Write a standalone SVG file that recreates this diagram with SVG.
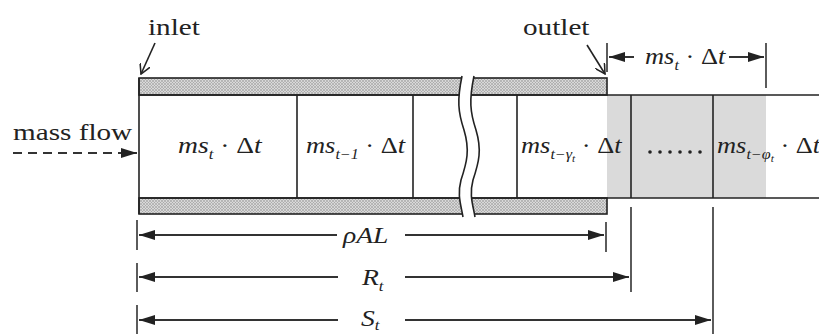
<svg xmlns="http://www.w3.org/2000/svg" width="819" height="334" viewBox="0 0 819 334">
<defs>
<pattern id="hatch" width="3" height="3" patternUnits="userSpaceOnUse">
<rect width="3" height="3" fill="#d8d8d8"/>
<path d="M0,3 L3,0 M0,0 L3,3" stroke="#a0a0a0" stroke-width="0.6"/>
</pattern>
<marker id="fa" viewBox="0 0 16 10" refX="16" refY="5" markerWidth="16" markerHeight="10" markerUnits="userSpaceOnUse" orient="auto">
<path d="M0,0 L16,5 L0,10 Z" fill="#222"/>
</marker>
<marker id="oa" viewBox="0 0 10 10" refX="9" refY="5" markerWidth="11" markerHeight="11" markerUnits="userSpaceOnUse" orient="auto">
<path d="M0,0 L9,5 L0,10" fill="none" stroke="#222" stroke-width="1.4"/>
</marker>
</defs>
<style>
text{font-family:"Liberation Serif","Times New Roman",Times,serif;fill:#222}
.lbl{font-size:23px}
.m{font-size:23px;font-style:italic}
.up{font-style:normal}
.sub{font-size:14px}
.ssub{font-size:10px}
.ln{stroke:#222;stroke-width:1.6;fill:none}
.band{stroke:#222;stroke-width:1.6;fill:url(#hatch)}
.dim{stroke:#333;stroke-width:2;fill:none}
.tick{stroke:#333;stroke-width:1.6}
.dot{fill:#222}
</style>
<rect width="819" height="334" fill="#fff"/>

<g id="pipe">
<rect x="607" y="95" width="159" height="103" fill="#dadada"/>
<rect x="139" y="78" width="468" height="17" class="band"/>
<rect x="139" y="198" width="468" height="16" class="band"/>
<line x1="139" y1="95" x2="819" y2="95" class="ln"/>
<line x1="139" y1="198" x2="819" y2="198" class="ln"/>
<line x1="139" y1="78" x2="139" y2="214" class="ln"/>
<g class="ln">
<line x1="297" y1="95" x2="297" y2="198"/>
<line x1="413" y1="95" x2="413" y2="198"/>
<line x1="517" y1="95" x2="517" y2="198"/>
<line x1="631" y1="95" x2="631" y2="198"/>
<line x1="713" y1="95" x2="713" y2="198"/>
</g>
</g>

<g id="break">
<path d="M462,76 C457,100 458,112 464,130 C470,150 467,162 461,180 C457,195 461,205 463,217 L475,217 C473,205 469,195 473,180 C479,162 482,150 476,130 C470,112 469,100 474,76 Z" fill="#fff"/>
<path d="M462,76 C457,100 458,112 464,130 C470,150 467,162 461,180 C457,195 461,205 463,217" class="ln"/>
<path d="M474,76 C469,100 470,112 476,130 C482,150 479,162 473,180 C469,195 473,205 475,217" class="ln"/>
</g>

<g id="cells">
<text class="m" transform="translate(178,153) scale(1.2,1)">ms<tspan class="sub" dy="6">t</tspan><tspan class="up" dy="-6"> · Δ</tspan>t</text>
<text class="m" transform="translate(306,153) scale(1.15,1)">ms<tspan class="sub" dy="6">t−1</tspan><tspan class="up" dy="-6"> · Δ</tspan>t</text>
<text class="m" transform="translate(521,153) scale(1.15,1)">ms<tspan class="sub" dy="6">t−γ</tspan><tspan class="ssub" dy="3">t</tspan><tspan class="up" dy="-9"> · Δ</tspan>t</text>
<g id="dots">
<circle cx="650" cy="152" r="1.8" class="dot"/>
<circle cx="660" cy="152" r="1.8" class="dot"/>
<circle cx="670" cy="152" r="1.8" class="dot"/>
<circle cx="680" cy="152" r="1.8" class="dot"/>
<circle cx="690" cy="152" r="1.8" class="dot"/>
<circle cx="700" cy="152" r="1.8" class="dot"/>
</g>
<text class="m" transform="translate(717,153) scale(1.15,1)">ms<tspan class="sub" dy="6">t−φ</tspan><tspan class="ssub" dy="3">t</tspan><tspan class="up" dy="-9"> · Δ</tspan>t</text>
</g>

<g id="labels">
<text class="lbl" transform="translate(148,35) scale(1.27,1)">inlet</text>
<text class="lbl" transform="translate(523,35) scale(1.27,1)">outlet</text>
<text class="lbl" transform="translate(13,140) scale(1.27,1)">mass flow</text>
</g>

<g id="connectors">
<line x1="155" y1="43" x2="141" y2="74" class="ln" marker-end="url(#oa)"/>
<line x1="587" y1="45" x2="605" y2="74" class="ln" marker-end="url(#oa)"/>
<line x1="13" y1="153" x2="137" y2="153" class="dim" stroke-dasharray="9,6" marker-end="url(#fa)"/>

<g id="dim-top">
<line x1="607" y1="43" x2="607" y2="72" class="tick"/>
<line x1="766" y1="43" x2="766" y2="88" class="tick"/>
<line x1="634" y1="57" x2="609" y2="57" class="dim" marker-end="url(#fa)"/>
<line x1="729" y1="57" x2="764" y2="57" class="dim" marker-end="url(#fa)"/>
<text class="m" transform="translate(645,64) scale(1.15,1)">ms<tspan class="sub" dy="6">t</tspan><tspan class="up" dy="-6"> · Δ</tspan>t</text>
</g>

<g id="dim-rhoAL">
<line x1="137" y1="220" x2="137" y2="250" class="tick"/>
<line x1="606" y1="222" x2="606" y2="252" class="tick"/>
<line x1="337" y1="235" x2="139" y2="235" class="dim" marker-end="url(#fa)"/>
<line x1="405" y1="235" x2="604" y2="235" class="dim" marker-end="url(#fa)"/>
<text class="m" transform="translate(343,243) scale(1.2,1)">ρAL</text>
</g>

<g id="dim-R">
<line x1="137" y1="263" x2="137" y2="292" class="tick"/>
<line x1="631" y1="207" x2="631" y2="292" class="tick"/>
<line x1="338" y1="277" x2="139" y2="277" class="dim" marker-end="url(#fa)"/>
<line x1="405" y1="277" x2="629" y2="277" class="dim" marker-end="url(#fa)"/>
<text class="m" transform="translate(362,285) scale(1.2,1)">R<tspan class="sub" dy="6">t</tspan></text>
</g>

<g id="dim-S">
<line x1="137" y1="305" x2="137" y2="334" class="tick"/>
<line x1="713" y1="207" x2="713" y2="334" class="tick"/>
<line x1="338" y1="320" x2="139" y2="320" class="dim" marker-end="url(#fa)"/>
<line x1="405" y1="320" x2="711" y2="320" class="dim" marker-end="url(#fa)"/>
<text class="m" transform="translate(361,326) scale(1.2,1)">S<tspan class="sub" dy="4">t</tspan></text>
</g>
</g>
</svg>
